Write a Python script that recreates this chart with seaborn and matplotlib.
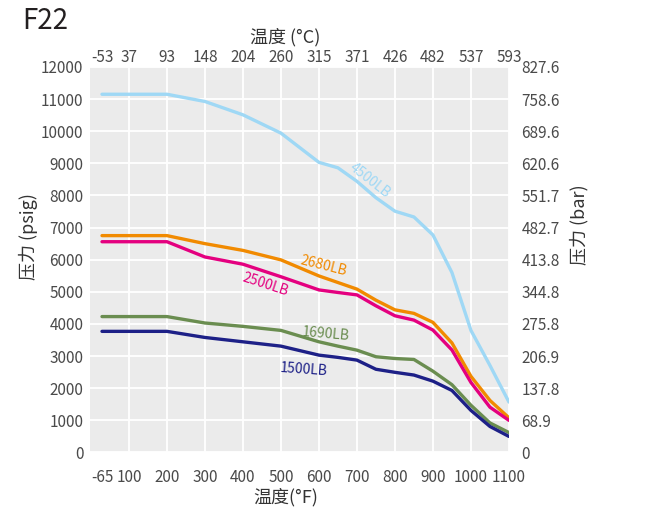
import numpy as np
import matplotlib
matplotlib.use("Agg")
import matplotlib.pyplot as plt
import pandas as pd
import seaborn as sns

# temperature points (°F) and pressure ratings (psig)
temps_f = [-65, 100, 200, 300, 400, 500, 600, 650, 700, 750, 800, 850, 900, 950, 1000, 1050, 1100]
p_4500 = [11150, 11150, 11150, 10925, 10510, 9940, 9030, 8860, 8440, 7930, 7510, 7330, 6770, 5600, 3800, 2710, 1570]
p_2680 = [6750, 6750, 6750, 6500, 6290, 5995, 5495, 5290, 5085, 4740, 4440, 4330, 4050, 3410, 2370, 1620, 1080]
p_2500 = [6560, 6560, 6560, 6085, 5860, 5470, 5060, 4980, 4905, 4565, 4255, 4120, 3810, 3190, 2180, 1410, 1000]
p_1690 = [4230, 4230, 4230, 4030, 3925, 3800, 3445, 3310, 3185, 2980, 2925, 2895, 2530, 2110, 1470, 920, 620]
p_1500 = [3770, 3770, 3770, 3580, 3445, 3310, 3030, 2960, 2875, 2590, 2495, 2410, 2220, 1930, 1310, 810, 500]

classes = ["4500LB", "2680LB", "2500LB", "1690LB", "1500LB"]
colors = ["#9fd8f5", "#f18a00", "#e4007f", "#6a8d50", "#1d2087"]

x_ticks_f = [100, 200, 300, 400, 500, 600, 700, 800, 900, 1000, 1100]
x_ticks_c = ["-53", "37", "93", "148", "204", "260", "315", "371", "426", "482", "537", "593"]
y_ticks_psi = list(range(0, 13000, 1000))
y_ticks_bar = ["0", "68.9", "137.8", "206.9", "275.8", "344.8", "413.8", "482.7",
               "551.7", "620.6", "689.6", "758.6", "827.6"]

# label placement (temp °F, psig, rotation)
label_pos = {
    "4500LB": (735, 8480, -38),
    "2680LB": (612, 5800, -14),
    "2500LB": (458, 5240, -18),
    "1690LB": (617, 3690, -5),
    "1500LB": (560, 2570, -4),
}

# the -65..100 span is squeezed on the x axis
K = 0.43


def fwd(x):
    x = np.asarray(x, dtype=float)
    return np.where(x < 100, 100 + (x - 100) * K, x)


def inv(x):
    x = np.asarray(x, dtype=float)
    return np.where(x < 100, 100 + (x - 100) / K, x)


df = pd.DataFrame({
    "temp": temps_f * 5,
    "psi": p_4500 + p_2680 + p_2500 + p_1690 + p_1500,
    "cls": [c for c in classes for _ in temps_f],
})

sns.set_theme(style="darkgrid", rc={"axes.facecolor": "#ebebeb", "grid.color": "white",
                                    "grid.linewidth": 1.3})
plt.rcParams['font.family'] = ['Noto Sans CJK SC', 'DejaVu Sans']

tick_color = "#4a4a4a"
fig = plt.figure(figsize=(6.55, 5.15), dpi=100)
ax = fig.add_axes([0.137, 0.1214, 0.64, 0.7486])

sns.lineplot(data=df, x="temp", y="psi", hue="cls", hue_order=classes,
             palette=colors, linewidth=2.4, legend=False, errorbar=None, ax=ax)

ax.set_xscale("function", functions=(fwd, inv))
ax.set_xlim(-140, 1100)
ax.set_ylim(0, 12000)
ax.set_xticks(x_ticks_f)
ax.set_xticks([-65], labels=["-65"], minor=True)
ax.set_yticks(y_ticks_psi)
ax.grid(True, which="major")
ax.grid(False, which="minor")
ax.set_xlabel("")
ax.set_ylabel("")
ax.tick_params(axis="x", which="both", length=0, pad=12, labelsize=11, colors=tick_color)
ax.tick_params(axis="y", length=0, pad=4.5, labelsize=11, colors=tick_color)

for c, col in zip(classes, colors):
    tx, ty, rot = label_pos[c]
    ax.text(tx, ty, c, color=col, fontsize=10, rotation=rot, rotation_mode="anchor",
            ha="center", va="center")

# top axis: °C
ax_top = ax.twiny()
ax_top.set_xscale("function", functions=(fwd, inv))
ax_top.set_xlim(-140, 1100)
ax_top.set_xticks([-65] + x_ticks_f, labels=x_ticks_c)
ax_top.grid(False)
ax_top.tick_params(axis="x", length=0, pad=0.5, labelsize=11, colors=tick_color)

# right axis: bar
ax_right = ax.twinx()
ax_right.set_ylim(0, 12000)
ax_right.set_yticks(y_ticks_psi, labels=y_ticks_bar)
ax_right.grid(False)
ax_right.tick_params(axis="y", length=0, pad=9, labelsize=11, colors=tick_color)

for a in (ax, ax_top, ax_right):
    for s in a.spines.values():
        s.set_visible(False)

label_color = "#333333"
fig.text(22 / 655, 1 - 29 / 515, "F22", fontsize=20, color="#231f20", va="baseline", ha="left")
fig.text(285 / 655, 1 - 37 / 515, "温度 (°C)", fontsize=13, color=label_color, ha="center", va="center")
fig.text(286 / 655, 1 - 497 / 515, "温度(°F)", fontsize=13, color=label_color, ha="center", va="center")
fig.text(28.5 / 655, 1 - 237 / 515, "压力 (psig)", fontsize=13, color=label_color, ha="center",
         va="center", rotation=90)
fig.text(579.5 / 655, 1 - 225 / 515, "压力 (bar)", fontsize=13, color=label_color, ha="center",
         va="center", rotation=90)

fig.savefig("out.png", dpi=100)
